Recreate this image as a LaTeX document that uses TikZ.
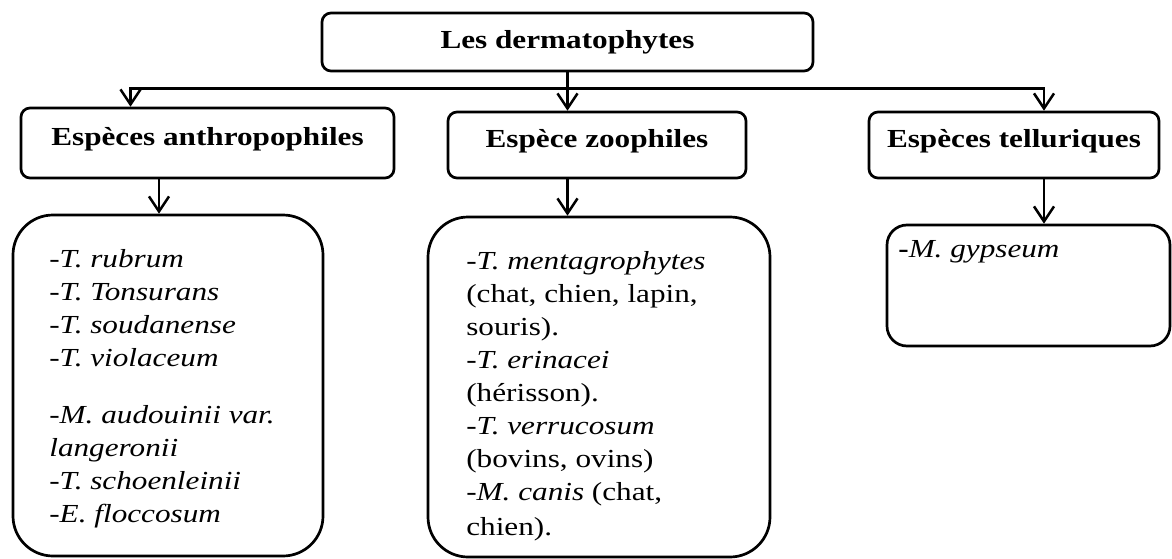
\documentclass[tikz,border=0pt]{standalone}
\usepackage{fontspec}
\setmainfont[FakeStretch=1.2]{Liberation Serif}
\usetikzlibrary{arrows.meta}
\begin{document}
\begin{tikzpicture}[x=1pt,y=1pt, line width=2.7pt,
 hbox/.style={draw, rounded corners=9pt, inner sep=0pt, font=\fontsize{26}{30}\selectfont\bfseries},
 lift/.style={text height=17pt, text depth=12pt},
 bigbox/.style={draw, rounded corners=40pt, inner sep=0pt},
 body/.style={anchor=north west, inner sep=0pt, align=left, font=\fontsize{26}{33}\selectfont},
 arr/.style={-{Straight Barb[length=15pt,width=20pt]}, line width=2.5pt}]
\useasboundingbox (0,0) rectangle (1172,-559);
% header boxes
\node[hbox, minimum width=491pt, minimum height=58pt] (top) at (567.5,-42) {Les dermatophytes};
\node[hbox, lift, minimum width=373pt, minimum height=70pt] (a1) at (207.5,-143) {Espèces anthropophiles};
\node[hbox, lift, minimum width=298pt, minimum height=66pt] (a2) at (597,-145) {Espèce zoophiles};
\node[hbox, lift, minimum width=290pt, minimum height=66pt] (a3) at (1014,-145) {Espèces telluriques};
% content boxes
\node[bigbox, minimum width=310pt, minimum height=341pt] (b1) at (168,-385.5) {};
\node[bigbox, minimum width=342pt, minimum height=340pt] (b2) at (599,-387) {};
\node[draw, rounded corners=20pt, inner sep=0pt, minimum width=283pt, minimum height=121pt] (b3) at (1028.5,-285.5) {};
% texts
\node[body] (b1t) at (48,-248) {%
\textit{-T. rubrum}\\
\textit{-T. Tonsurans}\\
\textit{-T. soudanense}\\
\textit{-T. violaceum}\\[24pt]
\textit{-M. audouinii var.}\\
\textit{langeronii}\\
\textit{-T. schoenleinii}\\
\textit{-E. floccosum}};
\node[body] (b2t) at (465,-250) {%
\textit{-T. mentagrophytes}\\
(chat, chien, lapin,\\
souris).\\
\textit{-T. erinacei}\\
(hérisson).\\
\textit{-T. verrucosum}\\
(bovins, ovins)\\
\textit{-M. canis} (chat,\\[2pt]
chien).};
\node[body] (b3t) at (897,-239) {\textbf{-}\textit{M. gypseum}};
% connectors
\coordinate (hl) at ([yshift=-16pt]top.south);
\coordinate (a1x) at ([xshift=-77pt]a1.north);
\coordinate (a3x) at ([xshift=30pt]a3.north);
\coordinate (b1x) at ([xshift=-9pt]b1.north);
\draw[arr] (top.south) -- (top.south |- a2.north);
\draw[arr] (hl) -| (a1x);
\draw[arr] (hl) -| (a3x);
\draw[arr] (b1x |- a1.south) -- (b1x);
\draw[arr] (top.south |- a2.south) -- (top.south |- b2.north);
\draw[arr] (a3x |- a3.south) -- (a3x |- b3.north);
\end{tikzpicture}
\end{document}
